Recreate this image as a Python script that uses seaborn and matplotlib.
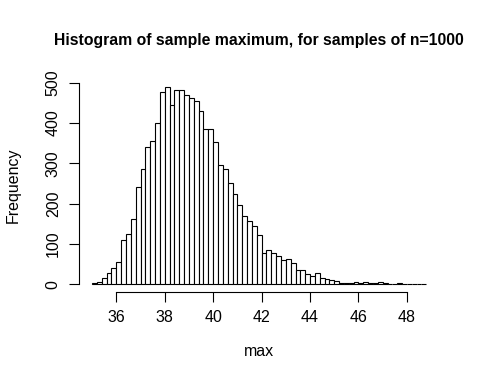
import numpy as np
import pandas as pd
import matplotlib
matplotlib.use("Agg")
import matplotlib.pyplot as plt
import seaborn as sns

# histogram of the sample maximum, counts per 0.2-wide bin starting at 35.0
bin_start = 35.0
bin_width = 0.2
counts = [3, 6, 16, 28, 40, 54, 110, 124, 163, 240,
          285, 340, 356, 399, 478, 490, 444, 481, 483, 470,
          461, 454, 429, 384, 386, 352, 295, 285, 252, 224,
          196, 169, 157, 144, 122, 77, 85, 78, 69, 61,
          63, 52, 35, 35, 25, 20, 27, 15, 14, 11,
          7, 3, 3, 2, 5, 2, 5, 2, 2, 5,
          2, 1, 1, 2, 1, 0, 1, 1, 1]
x_ticks = [36, 38, 40, 42, 44, 46, 48]
y_ticks = [0, 100, 200, 300, 400, 500]
title = "Histogram of sample maximum, for samples of n=1000"
x_label = "max"
y_label = "Frequency"

edges = bin_start + bin_width * np.arange(len(counts) + 1)
df = pd.DataFrame({"max": (edges[:-1] + edges[1:]) / 2, "n": counts})

sns.set_style("white")
plt.rcParams["font.family"] = ["Liberation Sans", "DejaVu Sans"]
plt.rcParams["text.color"] = "black"
plt.rcParams["xtick.color"] = "black"
plt.rcParams["ytick.color"] = "black"

fig = plt.figure(figsize=(4.8, 3.9), dpi=100)
ax = fig.add_axes([0.164, 0.251, 0.752, 0.547])

sns.histplot(data=df, x="max", weights="n", bins=[float(e) for e in edges], ax=ax,
             color="white", edgecolor="black", linewidth=0.8, alpha=1)

# R style usr range with 4% padding
xr = edges[-1] - edges[0]
ax.set_xlim(edges[0] - 0.04 * xr, edges[-1] + 0.04 * xr)
ymax = max(counts)
ax.set_ylim(-0.04 * ymax, ymax * 1.04)

ax.spines["top"].set_visible(False)
ax.spines["right"].set_visible(False)
ax.spines["bottom"].set_bounds(x_ticks[0], x_ticks[-1])
ax.spines["left"].set_bounds(y_ticks[0], y_ticks[-1])
for s in ("bottom", "left"):
    ax.spines[s].set_linewidth(0.8)
    ax.spines[s].set_color("black")

ax.set_xticks(x_ticks)
ax.set_yticks(y_ticks)
ax.tick_params(axis="both", bottom=True, left=True, direction="out",
               length=6.9, width=0.8, color="black", labelcolor="black",
               labelsize=11.5, pad=6)
ax.tick_params(axis="y", labelrotation=90)
for lab in ax.get_yticklabels():
    lab.set_va("center")

ax.set_xlabel("")
ax.set_ylabel("")
fig.text(0.539, 1 - 352 / 390, x_label, ha="center", va="center", fontsize=11.5)
fig.text(13 / 480, 0.525, y_label, ha="center", va="center",
         rotation=90, fontsize=11.5)
fig.text(0.539, 1 - 40 / 390, title, ha="center", va="center",
         fontsize=11.3, fontweight="bold")

fig.savefig("out.png", dpi=100, facecolor="white")
